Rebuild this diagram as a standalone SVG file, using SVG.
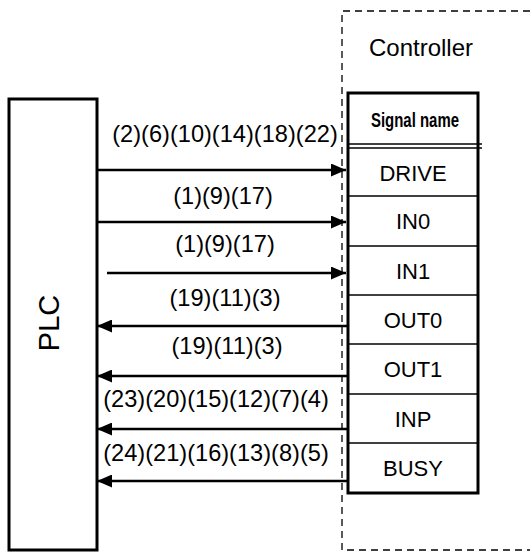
<svg xmlns="http://www.w3.org/2000/svg" width="530" height="552" viewBox="0 0 530 552">
<style>
text{font-family:"Liberation Sans",Arial,sans-serif;fill:#000}
.lbl{font-size:23.6px;text-anchor:middle}
.sig{font-size:22px;text-anchor:middle}
.row{stroke:#000;stroke-width:1.6}
.ar{stroke:#000;stroke-width:2.5;fill:none}
</style>
<defs>
<marker id="ah" viewBox="0 0 15 13" refX="15" refY="6.5" markerWidth="15" markerHeight="13" markerUnits="userSpaceOnUse" orient="auto">
<path d="M0,0 L15,6.5 L0,13 Z" fill="#000"/>
</marker>
</defs>
<g id="controller">
<path d="M530,11 H342 V550 H530" fill="none" stroke="#000" stroke-width="1.3" stroke-dasharray="7 5"/>
<text x="369" y="56" style="font-size:24px">Controller</text>
</g>
<g id="plc">
<rect x="9" y="99" width="88" height="451" fill="#fff" stroke="#000" stroke-width="3"/>
<text transform="translate(59,323) rotate(-90)" style="font-size:29px;text-anchor:middle">PLC</text>
</g>
<g id="signal-table">
<rect x="348" y="93" width="130" height="400" fill="#fff" stroke="#000" stroke-width="3"/>
<line x1="348" y1="144" x2="482" y2="144" class="row"/>
<line x1="348" y1="148" x2="482" y2="148" class="row"/>
<line x1="348" y1="196" x2="478" y2="196" class="row"/>
<line x1="348" y1="246" x2="478" y2="246" class="row"/>
<line x1="348" y1="295" x2="478" y2="295" class="row"/>
<line x1="348" y1="344" x2="478" y2="344" class="row"/>
<line x1="348" y1="394" x2="478" y2="394" class="row"/>
<line x1="348" y1="443" x2="478" y2="443" class="row"/>
<text x="415" y="127" style="font-family:'Liberation Sans Narrow','Arial Narrow','Liberation Sans',sans-serif;font-weight:bold;font-size:19.5px;text-anchor:middle" textLength="88" lengthAdjust="spacingAndGlyphs">Signal name</text>
<text x="413" y="181" class="sig">DRIVE</text>
<text x="413" y="229" class="sig">IN0</text>
<text x="413" y="279" class="sig">IN1</text>
<text x="413" y="328" class="sig">OUT0</text>
<text x="413" y="377" class="sig">OUT1</text>
<text x="413" y="427" class="sig">INP</text>
<text x="413" y="476" class="sig">BUSY</text>
</g>
<g id="connectors">
<line x1="97" y1="170" x2="346" y2="170" class="ar" marker-end="url(#ah)"/>
<line x1="97" y1="222" x2="346" y2="222" class="ar" marker-end="url(#ah)"/>
<line x1="107" y1="273" x2="346" y2="273" class="ar" marker-end="url(#ah)"/>
<line x1="348" y1="326" x2="97" y2="326" class="ar" marker-end="url(#ah)"/>
<line x1="348" y1="376" x2="97" y2="376" class="ar" marker-end="url(#ah)"/>
<line x1="348" y1="429" x2="97" y2="429" class="ar" marker-end="url(#ah)"/>
<line x1="348" y1="481" x2="97" y2="481" class="ar" marker-end="url(#ah)"/>
<text x="225" y="142" class="lbl">(2)(6)(10)(14)(18)(22)</text>
<text x="223" y="204" class="lbl">(1)(9)(17)</text>
<text x="225" y="252" class="lbl">(1)(9)(17)</text>
<text x="225" y="306" class="lbl">(19)(11)(3)</text>
<text x="227" y="354" class="lbl">(19)(11)(3)</text>
<text x="216" y="407" class="lbl">(23)(20)(15)(12)(7)(4)</text>
<text x="216" y="461" class="lbl">(24)(21)(16)(13)(8)(5)</text>
</g>
</svg>
